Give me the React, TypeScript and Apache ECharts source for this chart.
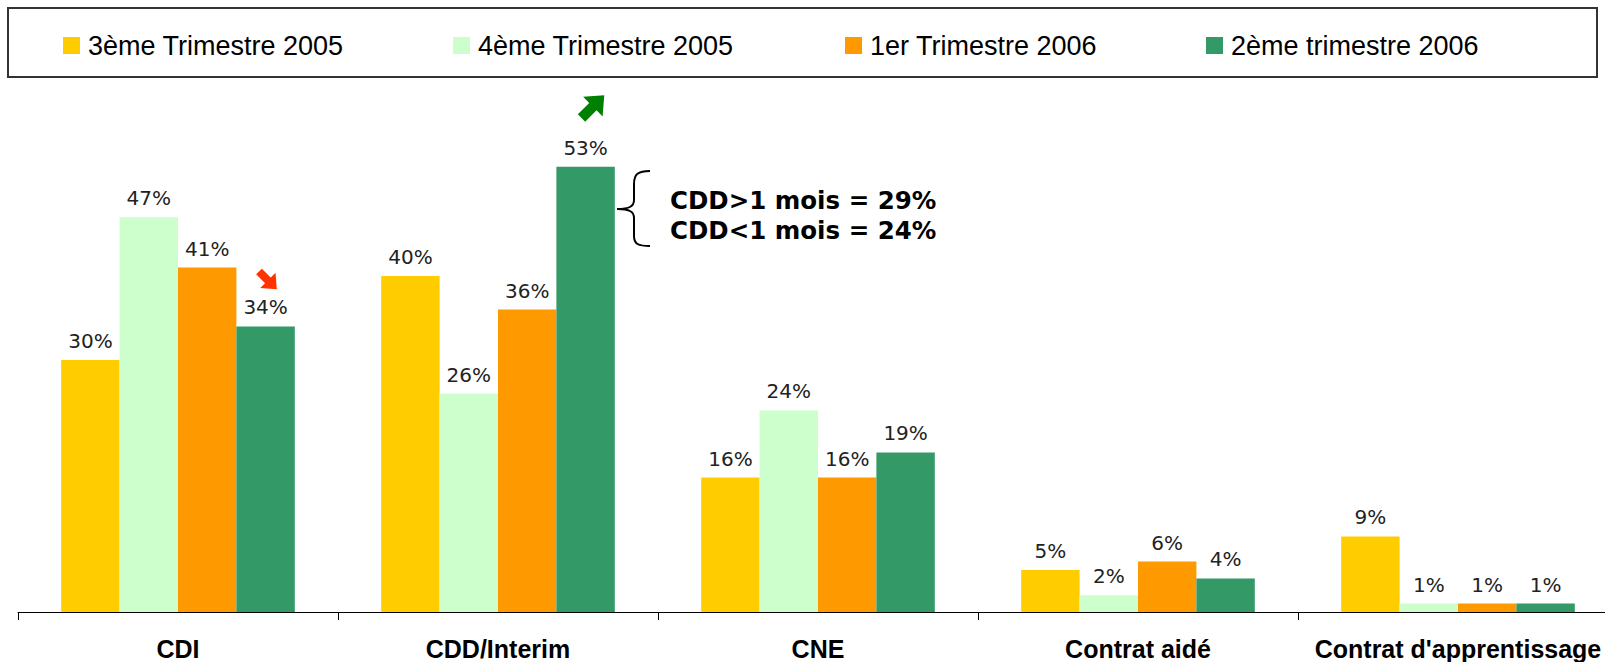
import React, { useEffect, useRef } from "react";
import * as echarts from "echarts";

const categories = ["CDI", "CDD/Interim", "CNE", "Contrat aidé", "Contrat d'apprentissage"];
const seriesNames = ["3ème Trimestre 2005", "4ème Trimestre 2005", "1er Trimestre 2006", "2ème trimestre 2006"];
const t3_2005 = [30, 40, 16, 5, 9];
const t4_2005 = [47, 26, 24, 2, 1];
const t1_2006 = [41, 36, 16, 6, 1];
const t2_2006 = [34, 53, 19, 4, 1];
const seriesValues = [t3_2005, t4_2005, t1_2006, t2_2006];
const colors = ["#FFCC00", "#CCFFCC", "#FF9900", "#339966"];
const legendLefts = [63, 453, 845, 1206];
const noteLines = ["CDD>1 mois = 29%", "CDD<1 mois = 24%"];

const bracePath =
  "M650,171 C638,171 634,174 634,184 L634,200 C634,206 630,209 617,209 C630,209 634,212 634,218 L634,236 C634,244 638,246 650,246";
const arrowUpPath =
  "M-3.18,-3.18 L6.72,-13.08 L1.41,-18.38 L19.8,-19.8 L18.38,-1.41 L13.08,-6.72 L3.18,3.18 Z";
const arrowDownPath =
  "M3.18,-3.18 L13.08,6.72 L18.38,1.41 L19.8,19.8 L1.41,18.38 L6.72,13.08 L-3.18,3.18 Z";

let registered = false;
function registerShapes() {
  if (registered) return;
  registered = true;
  echarts.graphic.registerShape("brace", echarts.graphic.extendPath(bracePath, {}));
  echarts.graphic.registerShape("arrowUp", echarts.graphic.extendPath(arrowUpPath, {}));
  echarts.graphic.registerShape("arrowDown", echarts.graphic.extendPath(arrowDownPath, {}));
}

export default function App() {
  const ref = useRef<HTMLDivElement>(null);
  useEffect(() => {
    if (!ref.current) return;
    registerShapes();
    const chart = echarts.init(ref.current, null, { renderer: "svg" });
    const option: any = {
      animation: false,
      backgroundColor: "#ffffff",
      legend: seriesNames.map((n, i) => ({
        data: [n],
        left: legendLefts[i],
        top: 32,
        padding: 0,
        icon: "rect",
        itemWidth: 17,
        itemHeight: 17,
        textStyle: {
          fontFamily: "Liberation Sans",
          fontSize: 27,
          color: "#000",
          padding: [0, 0, 0, 3],
        },
      })),
      grid: { left: 18, right: 0, top: 108, bottom: 50 },
      xAxis: {
        type: "category",
        data: categories,
        axisLine: { lineStyle: { color: "#000", width: 1 } },
        axisTick: { show: true, length: 8, lineStyle: { color: "#000" } },
        axisLabel: {
          fontFamily: "Liberation Sans",
          fontWeight: "bold",
          fontSize: 25,
          color: "#000",
          margin: 24,
          interval: 0,
        },
      },
      yAxis: { type: "value", min: 0, max: 60, show: false, splitLine: { show: false } },
      series: seriesNames.map((n, i) => ({
        name: n,
        type: "bar",
        data: seriesValues[i],
        barGap: "0%",
        barCategoryGap: "27%",
        itemStyle: { color: colors[i] },
        label: {
          show: true,
          position: "top",
          distance: 9,
          formatter: "{c}%",
          fontFamily: "DejaVu Sans",
          fontSize: 20,
          color: "#222",
        },
      })),
      graphic: [
        {
          type: "rect",
          shape: { x: 8, y: 8, width: 1589, height: 69 },
          style: { fill: "none", stroke: "#333", lineWidth: 2 },
          z: -1,
        },
        {
          type: "brace",
          style: { fill: "none", stroke: "#000", lineWidth: 2 },
        },
        {
          type: "arrowUp",
          x: 581.5,
          y: 118,
          scaleX: 1.15,
          scaleY: 1.15,
          style: { fill: "#008000", stroke: "none" },
        },
        {
          type: "arrowDown",
          x: 259,
          y: 271.5,
          scaleX: 0.9,
          scaleY: 0.9,
          style: { fill: "#FF3300", stroke: "none" },
        },
        ...noteLines.map((t, i) => ({
          type: "text",
          x: 670,
          y: 200 + i * 30,
          style: {
            text: t,
            font: 'bold 24.5px "DejaVu Sans"',
            fill: "#000",
            textAlign: "left",
            textVerticalAlign: "middle",
          },
        })),
      ],
    };
    chart.setOption(option);
    return () => chart.dispose();
  }, []);
  return (
    <div
      ref={ref}
      style={{ position: "fixed", left: 0, top: 0, width: 1618, height: 662 }}
    />
  );
}
